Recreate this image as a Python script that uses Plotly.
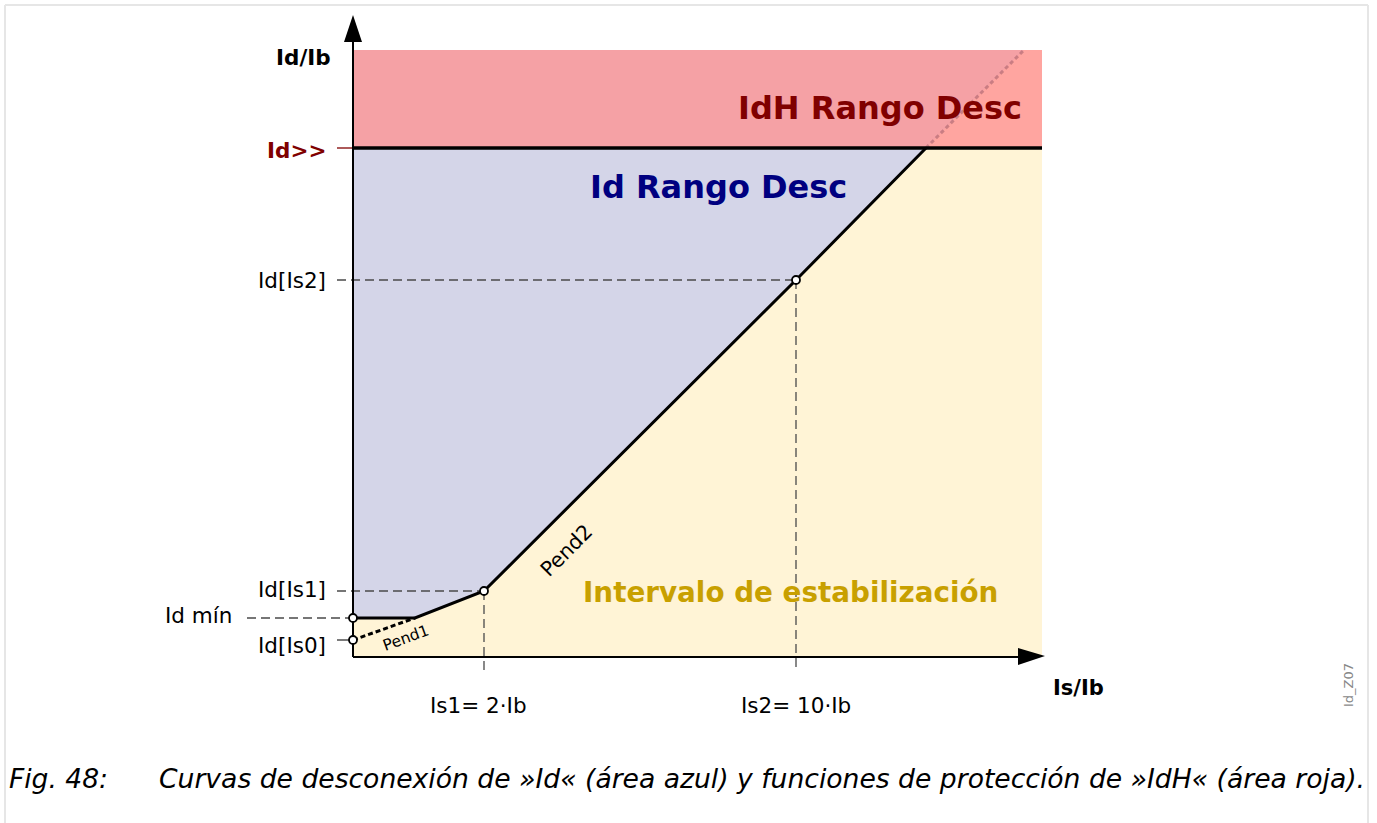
import plotly.graph_objects as go

# schematic units: origin of the Is/Ib - Id/Ib diagram at (0, 0)
is_pts = [0, 62, 131, 443, 573]       # characteristic break points (Is/Ib)
id_pts = [39, 39, 66, 377, 509]       # characteristic break points (Id/Ib)
id_is0 = 17                           # Id[Is0]
id_high = 509                         # Id>>
x_max, y_max = 689, 607               # extent of the coloured areas
ext_end = [671, 607]                  # Pend2 extended into the IdH area

y_ticks = ["Id>>", "Id[Is2]", "Id[Is1]", "Id mín", "Id[Is0]"]
y_tick_vals = [id_high, id_pts[3], id_pts[2], id_pts[0], id_is0]
x_ticks = ["Is1= 2·Ib", "Is2= 10·Ib"]
x_tick_vals = [is_pts[2], is_pts[3]]

FONT = "DejaVu Sans"
fig = go.Figure()


def poly(xs, ys, color):
    fig.add_trace(go.Scatter(x=xs, y=ys, mode="lines", fill="toself", fillcolor=color,
                             line=dict(width=0), hoverinfo="skip", showlegend=False))


def line(xs, ys, color="black", width=2, dash="solid"):
    fig.add_trace(go.Scatter(x=xs, y=ys, mode="lines", line=dict(color=color, width=width, dash=dash),
                             hoverinfo="skip", showlegend=False))


# areas
poly([0, x_max, x_max, 0], [id_high, id_high, y_max, y_max], "#f5a1a5")
poly([is_pts[4], ext_end[0], x_max, x_max], [id_high, ext_end[1], y_max, id_high], "#ffa5a0")
poly([0, is_pts[4], is_pts[2], is_pts[1], 0], [id_high, id_high, id_pts[2], id_pts[1], id_pts[0]], "#d4d5e8")
poly([0, is_pts[1], is_pts[2], is_pts[4], x_max, x_max, 0],
     [id_pts[0], id_pts[1], id_pts[2], id_pts[4], id_high, 0, 0], "#fff4d6")

# guide lines
gdash = "9px,5px"
line([-16, is_pts[3]], [id_pts[3]] * 2, "#4a4a4a", 1.3, gdash)
line([-16, is_pts[2]], [id_pts[2]] * 2, "#4a4a4a", 1.3, gdash)
line([-106, 0], [id_pts[0]] * 2, "#4a4a4a", 1.3, gdash)
line([-16, 0], [id_is0] * 2, "#333", 1.3)
line([-16, 0], [id_high] * 2, "#800000", 1.3)
line([is_pts[2]] * 2, [id_pts[2], -15], "#4a4a4a", 1.3, gdash)
line([is_pts[3]] * 2, [id_pts[3], -15], "#4a4a4a", 1.3, gdash)

# characteristic
line([is_pts[4], ext_end[0]], [id_pts[4], ext_end[1]], "rgba(170,100,110,0.6)", 3, "4px,3px")
line([0, x_max], [id_high, id_high], "black", 3.5)
line([0, is_pts[1]], [id_is0, id_pts[1]], "black", 3, "5px,3px")
line(is_pts, id_pts, "black", 3)

# axes
line([0, 0], [0, 618], "black", 2)
line([0, 668], [0, 0], "black", 2)
poly([0, -9, 9, 0], [642, 615, 615, 642], "black")
poly([692, 665, 665, 692], [1, 9, -8, 1], "black")

fig.add_trace(go.Scatter(x=[0, 0, is_pts[2], is_pts[3]], y=[id_pts[0], id_is0, id_pts[2], id_pts[3]],
                         mode="markers", marker=dict(size=8, color="white", line=dict(color="black", width=1.8)),
                         hoverinfo="skip", showlegend=False))

ann = []
for t, v in zip(y_ticks, y_tick_vals):
    bold = t == "Id>>"
    xr = -25 if t != "Id mín" else -119
    dy = {"Id[Is0]": -5, "Id mín": 3, "Id[Is1]": 2, "Id>>": -2}.get(t, 0)
    ann.append(dict(x=xr, y=v + dy, text=f"<b>{t}</b>" if bold else t, xanchor="right", yanchor="middle",
                    font=dict(size=21.5, color="#800000" if bold else "black")))
for t, v, dx in zip(x_ticks, x_tick_vals, [-6, 0]):
    ann.append(dict(x=v + dx, y=-48, text=t, xanchor="center", yanchor="middle", font=dict(size=21.5)))

ann += [
    dict(x=-50, y=600, text="<b>Id/Ib</b>", xanchor="center", yanchor="middle", font=dict(size=21.5)),
    dict(x=725, y=-31, text="<b>Is/Ib</b>", xanchor="center", yanchor="middle", font=dict(size=21)),
    dict(x=671, y=549, text="<b>IdH Rango Desc</b>", xanchor="right", yanchor="middle",
         font=dict(size=32, color="#800000")),
    dict(x=365, y=470, text="<b>Id Rango Desc</b>", xanchor="center", yanchor="middle",
         font=dict(size=32, color="#000080")),
    dict(x=437, y=65, text="<b>Intervalo de estabilización</b>", xanchor="center", yanchor="middle",
         font=dict(size=27.8, color="#c8a000")),
    dict(x=213, y=106, text="Pend2", textangle=-45, xanchor="center", yanchor="middle", font=dict(size=20.5)),
    dict(x=53, y=19, text="Pend1", textangle=-20, xanchor="center", yanchor="middle", font=dict(size=15.5)),
    dict(x=995, y=-28, text="Id_Z07", textangle=-90, xanchor="center", yanchor="middle",
         font=dict(size=13, color="#888")),
    dict(x=-346, y=-121, text="<i>Fig. 48:</i>", xanchor="left", yanchor="middle", font=dict(size=26.5)),
    dict(x=-196, y=-121, text="<i>Curvas de desconexión de »Id« (área azul) y funciones de protección de »IdH« (área roja).</i>",
         xanchor="left", yanchor="middle", font=dict(size=26.6)),
]
for a in ann:
    a.update(showarrow=False, xref="x", yref="y")
    a["font"].setdefault("family", FONT)
    a["font"].setdefault("color", "black")

# light frame around the figure
frame = [dict(type="line", x0=-348, x1=-348, y0=-166, y1=652),
         dict(type="line", x0=-348, x1=1015, y0=652, y1=652),
         dict(type="line", x0=1015, x1=1015, y0=-166, y1=652)]
for s in frame:
    s.update(xref="x", yref="y", line=dict(color="#e6e6e6", width=2), layer="below")

fig.update_layout(
    width=1377, height=823, margin=dict(l=0, r=0, t=0, b=0),
    paper_bgcolor="white", plot_bgcolor="white",
    xaxis=dict(range=[-353, 1024], visible=False, fixedrange=True),
    yaxis=dict(range=[-166, 657], visible=False, fixedrange=True),
    annotations=ann, shapes=frame, showlegend=False,
)
fig.write_html("out.html", config={"displayModeBar": False},
               post_script="document.body.style.margin = '0';")
